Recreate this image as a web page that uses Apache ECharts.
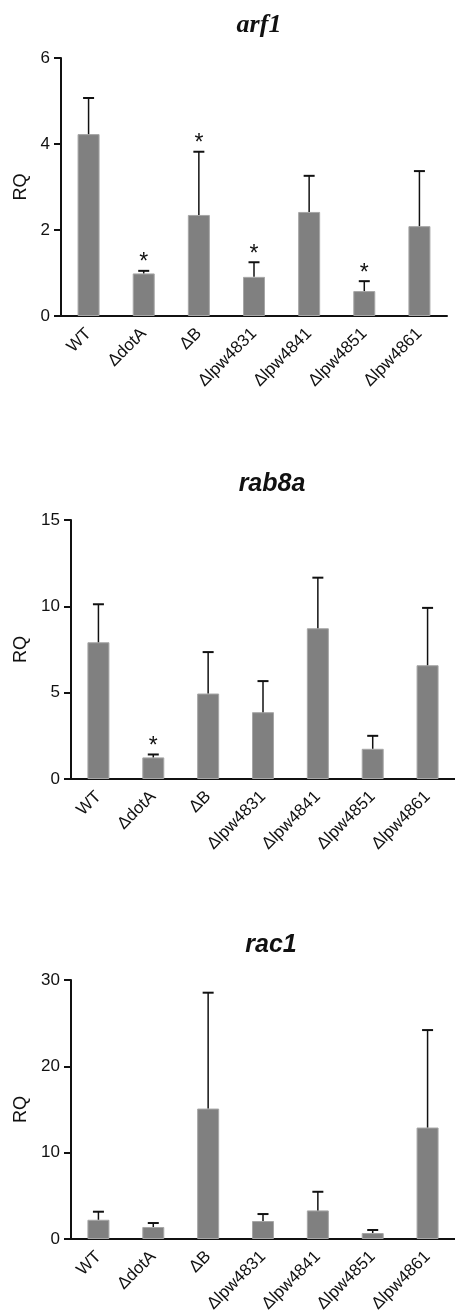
<!DOCTYPE html>
<html>
<head>
<meta charset="utf-8">
<script src="https://cdn.jsdelivr.net/npm/echarts@6/dist/echarts.min.js"></script>
<style>
html,body{margin:0;padding:0;background:#fff;}
#chart{width:455px;height:1315px;}
</style>
</head>
<body>
<div id="chart"></div>
<script>
var categories = ['WT', '\u0394dotA', '\u0394B', '\u0394lpw4831', '\u0394lpw4841', '\u0394lpw4851', '\u0394lpw4861'];
var titles = ['arf1', 'rab8a', 'rac1'];

var arf1Mean = [4.23, 0.99, 2.35, 0.91, 2.42, 0.58, 2.09];
var arf1SD   = [0.84, 0.06, 1.47, 0.34, 0.84, 0.23, 1.28];
var arf1Sig  = [0, 1, 1, 1, 0, 1, 0];

var rab8aMean = [7.92, 1.25, 4.95, 3.87, 8.73, 1.75, 6.59];
var rab8aSD   = [2.20, 0.17, 2.40, 1.80, 2.93, 0.75, 3.32];
var rab8aSig  = [0, 1, 0, 0, 0, 0, 0];

var rac1Mean = [2.23, 1.39, 15.11, 2.08, 3.31, 0.69, 12.91];
var rac1SD   = [0.93, 0.46, 13.42, 0.81, 2.16, 0.35, 11.29];
var rac1Sig  = [0, 0, 0, 0, 0, 0, 0];

var yMax = [6, 15, 30];
var yInterval = [2, 5, 10];

var means = [arf1Mean, rab8aMean, rac1Mean];
var sds = [arf1SD, rab8aSD, rac1SD];
var sigs = [arf1Sig, rab8aSig, rac1Sig];

var grids = [
  {left: 61, top: 58, width: 386, height: 258},
  {left: 71, top: 520, width: 387, height: 259},
  {left: 71, top: 980, width: 387, height: 259}
];
var titlePos = [
  {x: 254, y: 7, font: 'Liberation Serif', size: 26},
  {x: 267, y: 467, font: 'Liberation Sans', size: 25},
  {x: 266, y: 928, font: 'Liberation Sans', size: 25}
];
var nameGaps = [28, 38, 38];

var xAxes = [], yAxes = [], series = [], titleOpts = [];
for (var i = 0; i < 3; i++) {
  titleOpts.push({
    text: titles[i],
    left: titlePos[i].x,
    top: titlePos[i].y,
    textAlign: 'center',
    textStyle: {fontFamily: titlePos[i].font, fontStyle: 'italic', fontWeight: 'bold', fontSize: titlePos[i].size, color: '#111'}
  });
  xAxes.push({
    type: 'category', gridIndex: i, data: categories,
    axisLine: {lineStyle: {color: '#111', width: 2}},
    axisTick: {alignWithLabel: true, length: 7, lineStyle: {color: '#111', width: 2}},
    axisLabel: {interval: 0, rotate: 45, margin: 15, fontSize: 17, color: '#111', fontFamily: 'Liberation Sans'}
  });
  yAxes.push({
    type: 'value', gridIndex: i, min: 0, max: yMax[i], interval: yInterval[i],
    name: 'RQ', nameLocation: 'middle', nameGap: nameGaps[i],
    nameTextStyle: {fontSize: 18, color: '#111', fontFamily: 'Liberation Sans'},
    axisLine: {show: true, lineStyle: {color: '#111', width: 2}},
    axisTick: {show: true, length: 7, lineStyle: {color: '#111', width: 2}},
    axisLabel: {fontSize: 17, color: '#111', margin: 11, fontFamily: 'Liberation Sans'},
    splitLine: {show: false}
  });
  series.push({
    type: 'bar', xAxisIndex: i, yAxisIndex: i, data: means[i], barWidth: 22,
    itemStyle: {color: '#808080', borderColor: '#a6a6a6', borderWidth: 1},
    z: 2
  });
  var errData = [];
  for (var k = 0; k < categories.length; k++) {
    errData.push([k, means[i][k], sds[i][k], sigs[i][k]]);
  }
  series.push({
    type: 'custom', xAxisIndex: i, yAxisIndex: i, data: errData, z: 3,
    encode: {x: 0, y: 1},
    clip: false,
    renderItem: function (params, api) {
      var idx = api.value(0), m = api.value(1), sd = api.value(2), sg = api.value(3);
      var p0 = api.coord([idx, m]);
      var p1 = api.coord([idx, m + sd]);
      var children = [
        {type: 'line', shape: {x1: p0[0], y1: p0[1], x2: p1[0], y2: p1[1]}, style: {stroke: '#111', lineWidth: 1.5}},
        {type: 'line', shape: {x1: p1[0] - 5.5, y1: p1[1], x2: p1[0] + 5.5, y2: p1[1]}, style: {stroke: '#111', lineWidth: 2}}
      ];
      if (sg) {
        children.push({type: 'text', style: {text: '*', x: p1[0], y: p1[1] - 8, align: 'center', verticalAlign: 'middle', fontSize: 23, fontFamily: 'Liberation Sans', fill: '#111'}});
      }
      return {type: 'group', children: children};
    }
  });
}

var chart = echarts.init(document.getElementById('chart'), null, {renderer: 'canvas'});
chart.setOption({
  backgroundColor: '#fff',
  animation: false,
  title: titleOpts,
  grid: grids,
  xAxis: xAxes,
  yAxis: yAxes,
  series: series
});
</script>
</body>
</html>
